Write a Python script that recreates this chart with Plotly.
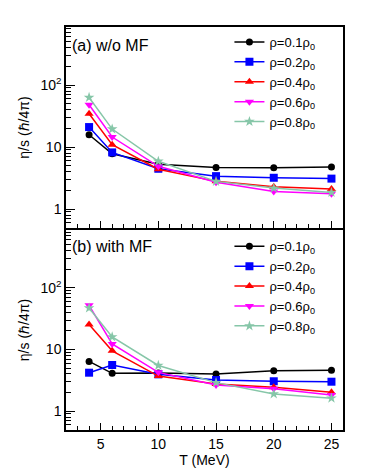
import plotly.graph_objects as go

# temperatures (MeV)
T = [4, 6, 10, 15, 20, 25]

densities = ["0.1", "0.2", "0.4", "0.6", "0.8"]

# eta/s in units of hbar/4pi, panel (a): without mean field
eta_a_01 = [15.8, 7.8, 5.3, 4.7, 4.65, 4.75]
eta_a_02 = [21.0, 8.2, 4.47, 3.4, 3.2, 3.1]
eta_a_04 = [34.4, 10.9, 4.4, 2.8, 2.3, 2.1]
eta_a_06 = [48.0, 14.5, 4.9, 2.72, 1.93, 1.77]
eta_a_08 = [63.0, 19.5, 5.9, 2.8, 2.18, 1.86]

# panel (b): with mean field
eta_b_01 = [6.4, 4.1, 4.15, 4.0, 4.5, 4.6]
eta_b_02 = [4.2, 5.6, 3.95, 3.2, 3.05, 3.0]
eta_b_04 = [25.3, 9.5, 3.7, 2.75, 2.44, 2.02]
eta_b_06 = [52.0, 12.3, 4.25, 2.66, 2.3, 1.83]
eta_b_08 = [47.0, 16.0, 5.5, 2.9, 1.9, 1.62]

series_a = [eta_a_01, eta_a_02, eta_a_04, eta_a_06, eta_a_08]
series_b = [eta_b_01, eta_b_02, eta_b_04, eta_b_06, eta_b_08]

colors = ["black", "#0000ff", "#ff0000", "#ff00ff", "#86c6a8"]
symbols = ["circle", "square", "triangle-up", "triangle-down", "star"]
sizes = [7, 8, 8, 8, 8]

FONT = "Liberation Sans, Arial, sans-serif"

fig = go.Figure()

for panel, series, xa, ya, leg in [("a", series_a, "x", "y", "legend"),
                                   ("b", series_b, "x2", "y2", "legend2")]:
    for d, vals, c, s, sz in zip(densities, series, colors, symbols, sizes):
        fig.add_trace(go.Scatter(
            x=T, y=vals, mode="lines+markers",
            name="ρ=" + d + "ρ<sub>0</sub>",
            line=dict(color=c, width=1.5),
            marker=dict(color=c, symbol=s, size=sz, line=dict(width=0)),
            xaxis=xa, yaxis=ya, legend=leg,
        ))

major = [1, 10, 100]
major_text = ["1", "10", "10<sup>2</sup>"]
minor_vals = [m * 10 ** e for e in range(-1, 3) for m in range(2, 10)]

yaxis_common = dict(
    type="log", range=[-0.306, 2.935],
    tickmode="array", tickvals=major, ticktext=major_text,
    ticks="inside", ticklen=9, tickwidth=1, tickcolor="black",
    minor=dict(tickmode="array", tickvals=minor_vals, ticks="inside",
               ticklen=5, tickwidth=1, tickcolor="black", showgrid=False),
    showline=True, linecolor="black", linewidth=1.5, mirror=True,
    showgrid=False, zeroline=False,
    title=dict(text="η/s (ℏ/4π)", font=dict(size=14), standoff=8),
    tickfont=dict(size=14),
)

xaxis_common = dict(
    range=[2, 26], tickvals=[5, 10, 15, 20, 25],
    ticks="inside", ticklen=7, tickwidth=1, tickcolor="black",
    minor=dict(dtick=1, tick0=0, ticks="inside", ticklen=4, tickwidth=1,
               tickcolor="black", showgrid=False),
    showline=True, linecolor="black", linewidth=1.5, mirror=True,
    showgrid=False, zeroline=False,
    tickfont=dict(size=14),
)

legend_common = dict(
    xanchor="left", yanchor="top",
    bgcolor="rgba(0,0,0,0)", borderwidth=0,
    font=dict(size=13, family=FONT), tracegroupgap=0, itemwidth=30,
)

fig.update_layout(
    width=371, height=471,
    margin=dict(l=58, r=36, t=19, b=49),
    paper_bgcolor="white", plot_bgcolor="white",
    font=dict(family=FONT, color="black", size=14),
    xaxis=dict(xaxis_common, anchor="y", showticklabels=False, matches="x2"),
    yaxis=dict(yaxis_common, domain=[0.501, 1.0], anchor="x"),
    xaxis2=dict(xaxis_common, anchor="y2",
                title=dict(text="T (MeV)", font=dict(size=14), standoff=0)),
    yaxis2=dict(yaxis_common, domain=[0.0, 0.496], anchor="x2"),
    legend=dict(legend_common, x=0.59, y=1.0),
    legend2=dict(legend_common, x=0.59, y=0.493),
    annotations=[
        dict(text="(a) w/o MF", x=0.015, y=0.955, xref="paper", yref="paper",
             xanchor="left", yanchor="middle", showarrow=False, font=dict(size=16)),
        dict(text="(b) with MF", x=0.015, y=0.455, xref="paper", yref="paper",
             xanchor="left", yanchor="middle", showarrow=False, font=dict(size=16)),
    ],
)

fig.write_html("out.html")
